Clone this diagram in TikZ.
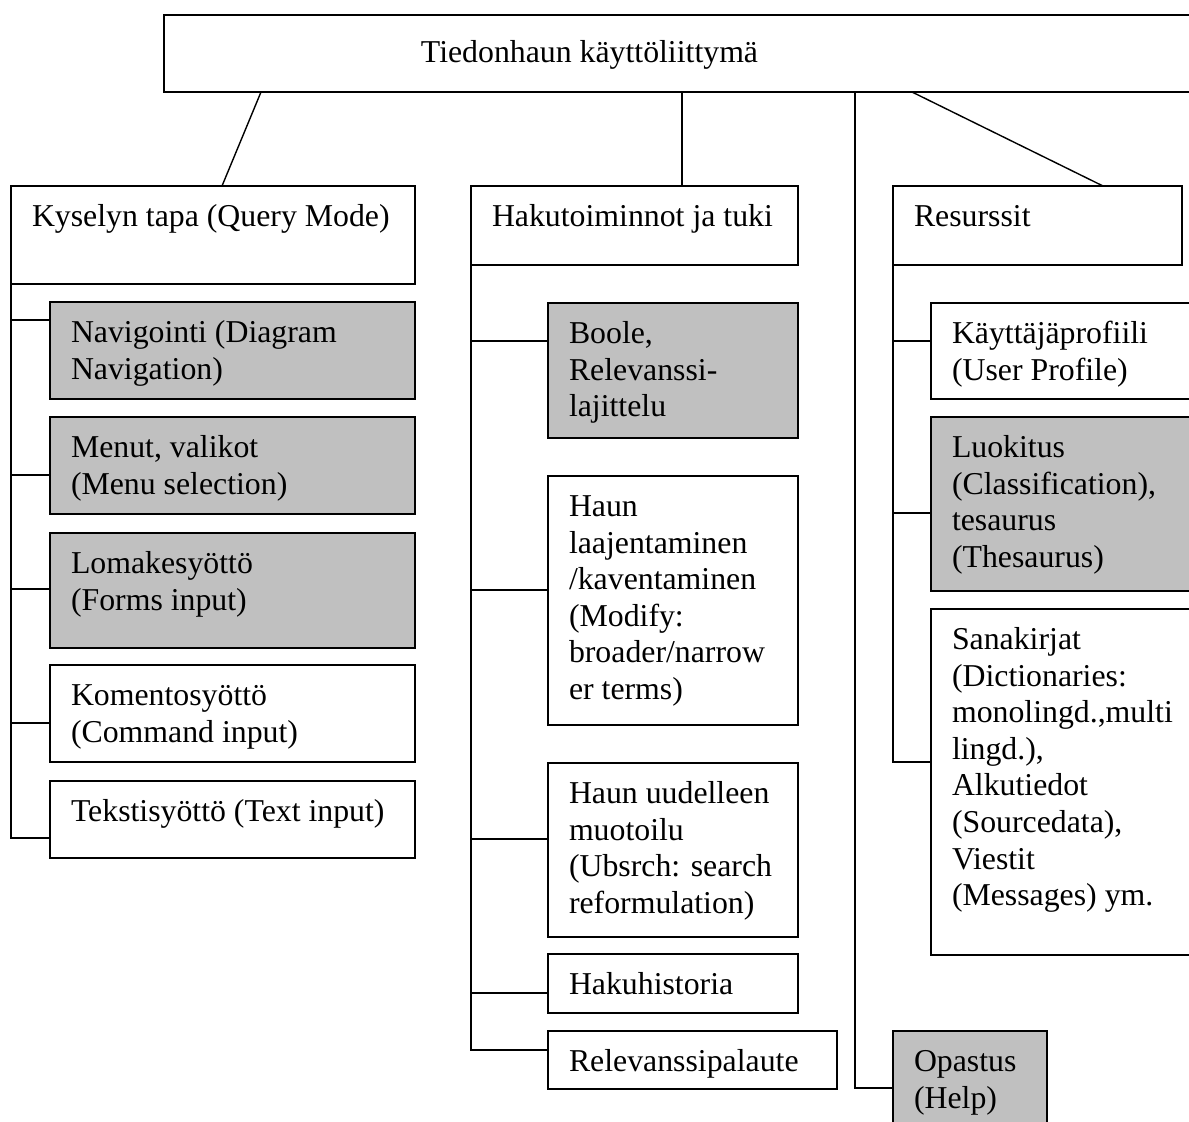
\documentclass[tikz,border=0pt]{standalone}
\usepackage{fontspec}
\setmainfont{Liberation Serif}
\definecolor{boxgrey}{RGB}{192,192,192}

\tikzset{
  frame/.style={draw, line width=1.8pt, anchor=north west, inner sep=0pt, outer sep=0pt, fill=white},
  shaded/.style={frame, fill=boxgrey},
  boxtext/.style={anchor=north west, inner sep=0pt, outer sep=0pt, align=left,
    font=\fontsize{31.8}{36.6}\selectfont},
  link/.style={line width=1.4pt},
}

% box node (name, style, x, y, width, height, text); text sits top-left inside
\newcommand\treebox[7]{%
  \node[#2, minimum width=#5pt, minimum height=#6pt] (#1) at (#3,#4) {};
  \node[boxtext] (#1-t) at ([xshift=21pt, yshift=-14.9pt]#1.north west) {\strut #7};
}

\begin{document}
\begin{tikzpicture}[x=1pt, y=-1pt]
\useasboundingbox (0,0) rectangle (1189,1122);
\clip (0,0) rectangle (1189,1122);

% root
\node[frame, minimum width=1100pt, minimum height=77pt] (top) at (164,15) {};
\node[boxtext, anchor=base] (top-t) at (589.5,62) {Tiedonhaun käyttöliittymä};

% first level
\treebox{kys}{frame}{11}{186}{404}{98}{Kyselyn tapa (Query Mode)}
\treebox{hak}{frame}{471}{186}{327}{79}{Hakutoiminnot ja tuki}
\treebox{res}{frame}{893}{186}{289}{79}{Resurssit}

% query mode
\treebox{nav}{shaded}{50}{302}{365}{97}{Navigointi (Diagram\\Navigation)}
\treebox{men}{shaded}{50}{417}{365}{97}{Menut, valikot\\(Menu selection)}
\treebox{lom}{shaded}{50}{533}{365}{115}{Lomakesyöttö\\(Forms input)}
\treebox{kom}{frame}{50}{665}{365}{97}{Komentosyöttö\\(Command input)}
\treebox{tek}{frame}{50}{781}{365}{77}{Tekstisyöttö (Text input)}

% search functions
\treebox{boo}{shaded}{548}{303}{250}{135}{Boole,\\Relevanssi-\\lajittelu}
\treebox{laa}{frame}{548}{476}{250}{249}{Haun\\laajentaminen\\/kaventaminen\\(Modify:\\broader/narrow\\er terms)}
\treebox{uud}{frame}{548}{763}{250}{174}{Haun uudelleen\\muotoilu\\(Ubsrch: search\\reformulation)}
\treebox{his}{frame}{548}{954}{250}{59}{Hakuhistoria}
\treebox{rel}{frame}{548}{1031}{289}{58}{Relevanssipalaute}

% resources
\treebox{kay}{frame}{931}{303}{300}{96}{Käyttäjäprofiili\\(User Profile)}
\treebox{luo}{shaded}{931}{417}{300}{174}{Luokitus\\(Classification),\\tesaurus\\(Thesaurus)}
\treebox{san}{frame}{931}{609}{300}{346}{Sanakirjat\\(Dictionaries:\\monolingd.,multi\\lingd.),\\Alkutiedot\\(Sourcedata),\\Viestit\\(Messages) ym.}

% help
\treebox{opa}{shaded}{893}{1031}{154}{120}{Opastus\\(Help)}

% root to first level
\draw[link] ([xshift=97pt]top.south west) -- ([xshift=211pt]kys.north west);
\draw[link] ([xshift=518pt]top.south west) -- ([xshift=211pt]hak.north west);
\draw[link] ([xshift=748pt]top.south west) -- ([xshift=210pt]res.north west);

% attachment points on the child boxes
\coordinate (nav-a) at ([yshift=-18pt]nav.north west);
\coordinate (men-a) at ([yshift=-58pt]men.north west);
\coordinate (lom-a) at ([yshift=-56pt]lom.north west);
\coordinate (kom-a) at ([yshift=-58pt]kom.north west);
\coordinate (tek-a) at ([yshift=-57pt]tek.north west);
\coordinate (boo-a) at ([yshift=-38pt]boo.north west);
\coordinate (laa-a) at ([yshift=-114pt]laa.north west);
\coordinate (uud-a) at ([yshift=-76pt]uud.north west);
\coordinate (his-a) at ([yshift=-39pt]his.north west);
\coordinate (rel-a) at ([yshift=-19pt]rel.north west);
\coordinate (kay-a) at ([yshift=-38pt]kay.north west);
\coordinate (luo-a) at ([yshift=-96pt]luo.north west);
\coordinate (san-a) at ([yshift=-153pt]san.north west);
\coordinate (opa-a) at ([yshift=-57pt]opa.north west);

% query mode branches
\draw[link] (kys.south west) |- (tek-a);
\foreach \c in {nav,men,lom,kom}
  \draw[link] (kys.south west |- \c-a) -- (\c-a);

% search function branches
\draw[link] (hak.south west) |- (rel-a);
\foreach \c in {boo,laa,uud,his}
  \draw[link] (hak.south west |- \c-a) -- (\c-a);

% resource branches
\draw[link] (res.south west) |- (san-a);
\foreach \c in {kay,luo}
  \draw[link] (res.south west |- \c-a) -- (\c-a);

% help branch straight from the root
\draw[link] ([xshift=691pt]top.south west) |- (opa-a);
\end{tikzpicture}
\end{document}
